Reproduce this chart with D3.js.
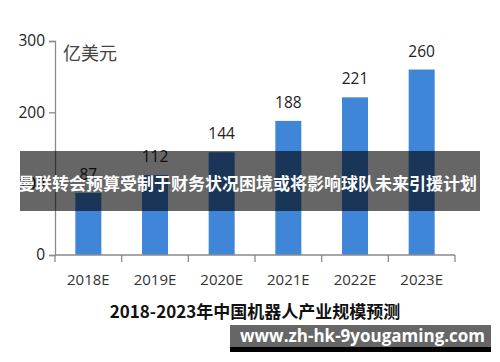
<!DOCTYPE html>
<html>
<head>
<meta charset="utf-8">
<script src="https://cdn.jsdelivr.net/npm/d3@7"></script>
<style>
  body { margin: 0; background: #fff; }
  svg { display: block; }
</style>
</head>
<body>
<div id="chart"></div>
<script>
// data
var years = ["2018E", "2019E", "2020E", "2021E", "2022E", "2023E"];
var values = [87, 112, 144, 188, 221, 260];
var yTicks = [0, 100, 200, 300];
var unitLabel = "亿美元";
var chartTitle = "2018-2023年中国机器人产业规模预测";
var bannerText = "曼联转会预算受制于财务状况困境或将影响球队未来引援计划";
var siteText = "www.zh-hk-9yougaming.com";

(function autoexecute() {
  var W = 500, H = 362;
  var num = "'Open Sans', 'Noto Sans', sans-serif";
  var cjk = "'Noto Sans CJK SC', 'Noto Sans', sans-serif";

  var svg = d3.select("#chart")
    .append("svg")
      .attr("width", W)
      .attr("height", H);

  var x = d3.scaleBand()
    .domain(years)
    .range([55, 455])
    .paddingInner(0.61)
    .paddingOuter(0.305);

  var y = d3.scaleLinear()
    .domain([0, 300])
    .range([255, 41]);

  // bars
  svg.append("g")
    .selectAll("rect")
    .data(values)
    .join("rect")
      .attr("x", function(d, i) { return x(years[i]); })
      .attr("y", function(d) { return y(d); })
      .attr("width", x.bandwidth())
      .attr("height", function(d) { return y(0) - y(d); })
      .attr("fill", "#3f86d9");

  // value labels
  svg.append("g")
    .selectAll("text")
    .data(values)
    .join("text")
      .attr("x", function(d, i) { return x(years[i]) + x.bandwidth() / 2; })
      .attr("y", function(d) { return y(d) - 13; })
      .attr("text-anchor", "middle")
      .style("font-family", num)
      .style("font-size", "15.5px")
      .attr("fill", "#222")
      .text(function(d) { return d; });

  // y axis
  var yAxis = svg.append("g")
    .attr("transform", "translate(55,0)")
    .call(d3.axisLeft(y).tickValues(yTicks).tickSize(6).tickPadding(4));
  yAxis.select(".domain").attr("stroke", "#8a8a8a").attr("stroke-width", 1.3);
  yAxis.selectAll(".tick line").attr("stroke", "#8a8a8a").attr("stroke-width", 1.3);
  yAxis.selectAll("text")
    .style("font-family", num)
    .style("font-size", "15.5px")
    .attr("fill", "#222");

  // x axis: ticks sit on the category boundaries
  var bounds = years.map(function(d) { return x(d) - x.step() * x.paddingInner() / 2; });
  bounds.push(455);
  var xAxis = svg.append("g").attr("transform", "translate(0," + y(0) + ")");
  xAxis.append("line")
    .attr("x1", 55).attr("x2", 455)
    .attr("stroke", "#8a8a8a").attr("stroke-width", 1.3);
  xAxis.selectAll(".xt")
    .data(bounds)
    .join("line")
      .attr("class", "xt")
      .attr("x1", function(d) { return d; })
      .attr("x2", function(d) { return d; })
      .attr("y1", 0).attr("y2", 7)
      .attr("stroke", "#8a8a8a").attr("stroke-width", 1.3);
  xAxis.selectAll(".xl")
    .data(years)
    .join("text")
      .attr("class", "xl")
      .attr("x", function(d) { return x(d) + x.bandwidth() / 2; })
      .attr("y", 30)
      .attr("text-anchor", "middle")
      .style("font-family", num)
      .style("font-size", "15px")
      .attr("fill", "#333")
      .text(function(d) { return d; });

  // unit label
  svg.append("text")
    .attr("x", 63)
    .attr("y", 60)
    .style("font-family", cjk)
    .style("font-size", "18px")
    .attr("fill", "#444")
    .text(unitLabel);

  // chart title
  svg.append("text")
    .attr("x", 255)
    .attr("y", 318)
    .attr("text-anchor", "middle")
    .style("font-family", cjk)
    .style("font-size", "17px")
    .style("font-weight", "bold")
    .attr("fill", "#111")
    .text(chartTitle);

  // headline banner across the middle
  svg.append("rect")
    .attr("x", 20).attr("y", 151)
    .attr("width", 460).attr("height", 60)
    .attr("fill", "rgba(0,0,0,0.6)");
  svg.append("text")
    .attr("x", 247.5)
    .attr("y", 190)
    .attr("text-anchor", "middle")
    .style("font-family", cjk)
    .style("font-size", "17px")
    .style("font-weight", "bold")
    .attr("fill", "#fff")
    .text(bannerText);

  // site banner at the bottom
  svg.append("rect")
    .attr("x", 230).attr("y", 325)
    .attr("width", 261).attr("height", 22)
    .attr("fill", "rgba(0,0,0,0.6)");
  svg.append("rect")
    .attr("x", 230).attr("y", 347)
    .attr("width", 261).attr("height", 5)
    .attr("fill", "#000");
  svg.append("text")
    .attr("x", 240)
    .attr("y", 342)
    .style("font-family", num)
    .style("font-size", "17px")
    .style("font-weight", "bold")
    .attr("fill", "#fff")
    .text(siteText);
})();
</script>
</body>
</html>
